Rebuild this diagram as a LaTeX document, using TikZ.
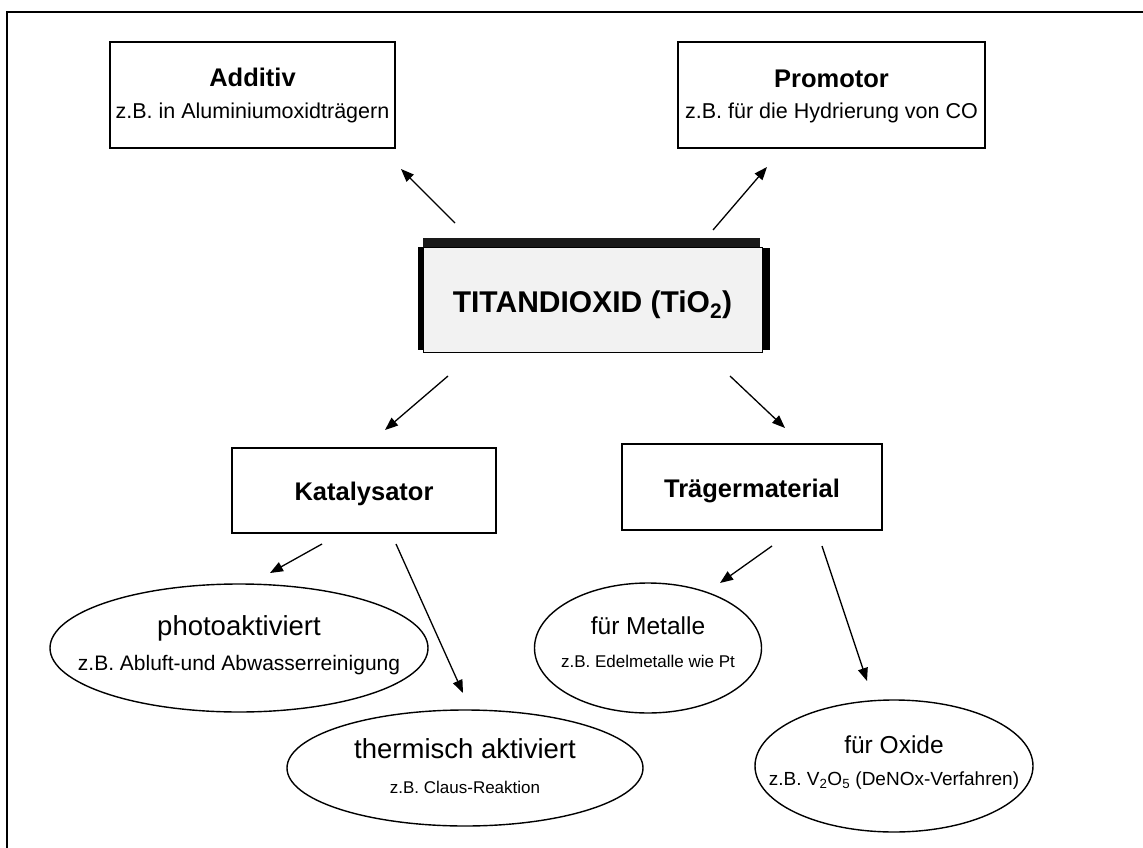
\documentclass[tikz,border=0pt]{standalone}
\usepackage{fontspec}
\setmainfont{Liberation Sans}
\usetikzlibrary{arrows.meta,shapes.geometric}
\definecolor{boxgray}{HTML}{F2F2F2}
\definecolor{band}{HTML}{1A1A1A}
\begin{document}
\begin{tikzpicture}[x=1pt,y=-1pt,
  boxnode/.style={draw=black, line width=1.8pt, rectangle, inner sep=0pt},
  ovalnode/.style={draw=black, line width=1.4pt, ellipse, inner sep=0pt},
  txt/.style={inner sep=0pt, anchor=base},
  boldtitle/.style={txt, font=\fontsize{25.5}{30}\selectfont\bfseries},
  boxsub/.style={txt, font=\fontsize{21.5}{26}\selectfont},
  ovaltitle/.style={txt, font=\fontsize{27.5}{32}\selectfont},
  ovalsub/.style={txt, font=\fontsize{19}{23}\selectfont},
  conn/.style={line width=1.3pt, -{Triangle[length=13pt,width=10pt]}},
]
\useasboundingbox (0,0) rectangle (1143,848);
% outer frame (only top and left edge are inside the page)
\draw[line width=2pt] (7,860) -- (7,12) -- (1150,12);

% top boxes
\node[boxnode, minimum width=285pt, minimum height=106pt] (additiv) at (252.5,95) {};
\node[boldtitle] (additivT) at (252.5,87) {Additiv};
\node[boxsub] (additivS) at (252.5,119) {z.B. in Aluminiumoxidträgern};

\node[boxnode, minimum width=307pt, minimum height=106pt] (promotor) at (831.5,95) {};
\node[boldtitle] (promotorT) at (831.5,88) {Promotor};
\node[boxsub] (promotorS) at (831.5,119) {z.B. für die Hydrierung von CO};

% central box with heavy borders
\fill[band] (423,238) rectangle (760,247);
\fill[black] (418,247) rectangle (423,350);
\fill[black] (763,248) rectangle (770,350);
\node[draw=black, line width=0.8pt, fill=boxgray, rectangle, inner sep=0pt,
      minimum width=339pt, minimum height=105pt] (tio) at (592.5,299.5) {};
\node[txt, font=\fontsize{30}{36}\selectfont\bfseries] (tioT) at (592.5,312) {TITANDIOXID (TiO\textsubscript{2})};

% middle boxes
\node[boxnode, minimum width=264pt, minimum height=85pt] (kat) at (364,490.5) {};
\node[boldtitle] (katT) at (364,500) {Katalysator};
\node[boxnode, minimum width=260pt, minimum height=86pt] (traeger) at (752,487) {};
\node[boldtitle] (traegerT) at (752,497) {Trägermaterial};

% ellipses
\node[ovalnode, minimum width=378pt, minimum height=128pt] (photo) at (239,648) {};
\node[ovaltitle] (photoT) at (239,635) {photoaktiviert};
\node[ovalsub, font=\fontsize{21}{25}\selectfont] (photoS) at (239,670) {z.B. Abluft-und Abwasserreinigung};

\node[ovalnode, minimum width=356pt, minimum height=116pt] (therm) at (465,768) {};
\node[ovaltitle] (thermT) at (465,758) {thermisch aktiviert};
\node[ovalsub, font=\fontsize{17}{21}\selectfont] (thermS) at (465,793) {z.B. Claus-Reaktion};

\node[ovalnode, minimum width=227pt, minimum height=130pt] (met) at (648,648) {};
\node[ovaltitle, font=\fontsize{24.5}{29}\selectfont] (metT) at (648,634) {für Metalle};
\node[ovalsub, font=\fontsize{17}{21}\selectfont] (metS) at (648,667) {z.B. Edelmetalle wie Pt};

\node[ovalnode, minimum width=278pt, minimum height=132pt] (ox) at (894,766) {};
\node[ovaltitle, font=\fontsize{24.5}{29}\selectfont] (oxT) at (894,753) {für Oxide};
\node[ovalsub] (oxS) at (894,785) {z.B. V\textsubscript{2}O\textsubscript{5} (DeNOx-Verfahren)};

% connector end points
\coordinate (a1) at (455,223); \coordinate (a2) at (401,169);
\coordinate (b1) at (713,230); \coordinate (b2) at (767,167);
\coordinate (c1) at (448,376); \coordinate (c2) at (385,430);
\coordinate (d1) at (730,376); \coordinate (d2) at (785,428);
\coordinate (e1) at (322,544); \coordinate (e2) at (270,573);
\coordinate (f1) at (396,544); \coordinate (f2) at (463,693);
\coordinate (g1) at (772,546); \coordinate (g2) at (720,583);
\coordinate (h1) at (822,546); \coordinate (h2) at (867,681);

\draw[conn] (a1) -- (a2);
\draw[conn] (b1) -- (b2);
\draw[conn] (c1) -- (c2);
\draw[conn] (d1) -- (d2);
\draw[conn] (e1) -- (e2);
\draw[conn] (f1) -- (f2);
\draw[conn] (g1) -- (g2);
\draw[conn] (h1) -- (h2);
\end{tikzpicture}
\end{document}
